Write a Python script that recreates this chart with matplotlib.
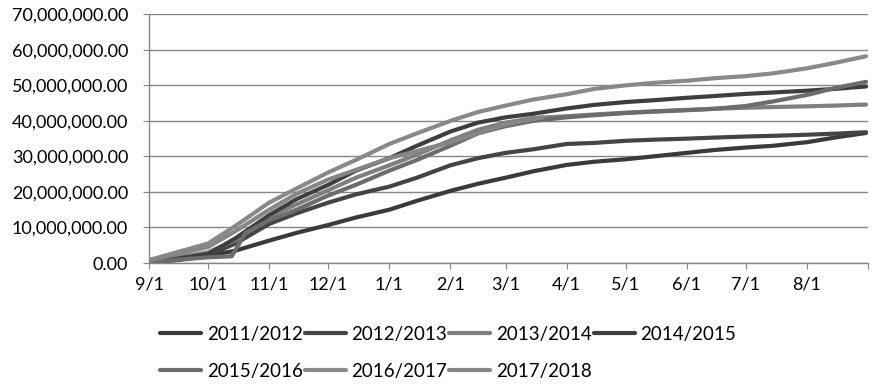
import numpy as np
import pandas as pd
import matplotlib
matplotlib.use('Agg')
import matplotlib.pyplot as plt
from matplotlib.ticker import FuncFormatter

plt.rcParams['font.family'] = ['Lato', 'DejaVu Sans']

# Dates of the readings (one season, Sep 1 to Aug 31)
dates = pd.to_datetime([
    '2017-09-01', '2017-09-15', '2017-10-01', '2017-10-15', '2017-11-01', '2017-11-15',
    '2017-12-01', '2017-12-15', '2018-01-01', '2018-01-15', '2018-02-01', '2018-02-15',
    '2018-03-01', '2018-03-15', '2018-04-01', '2018-04-15', '2018-05-01', '2018-05-15',
    '2018-06-01', '2018-06-15', '2018-07-01', '2018-07-15', '2018-08-01', '2018-08-15',
    '2018-08-31'])

# The 2015/2016 season has an extra flat stretch in October
dates_1516 = pd.to_datetime([
    '2017-09-01', '2017-09-15', '2017-10-01', '2017-10-13', '2017-10-20', '2017-11-01',
    '2017-11-15', '2017-12-01', '2017-12-15', '2018-01-01', '2018-01-15', '2018-02-01',
    '2018-02-15', '2018-03-01', '2018-03-15', '2018-04-01', '2018-04-15', '2018-05-01',
    '2018-05-15', '2018-06-01', '2018-06-15', '2018-07-01', '2018-07-15', '2018-08-01',
    '2018-08-15', '2018-08-31'])

# 2017/2018 season is not finished yet
dates_1718 = pd.to_datetime([
    '2017-09-01', '2017-09-15', '2017-10-01', '2017-10-15', '2017-11-01', '2017-11-15',
    '2017-12-01', '2017-12-15', '2018-01-01', '2018-01-15', '2018-02-01', '2018-02-15',
    '2018-03-01', '2018-03-15', '2018-03-20'])

# Cumulative values in millions
s1112 = [0.2, 0.8, 2.0, 3.5, 6.3, 8.5, 10.7, 12.8, 15.0, 17.5, 20.3, 22.3, 24.0, 25.8,
         27.6, 28.5, 29.2, 30.0, 31.0, 31.8, 32.5, 33.0, 34.0, 35.3, 36.6]
s1213 = [0.2, 1.0, 2.2, 5.5, 11.0, 14.0, 17.0, 19.3, 21.5, 24.0, 27.5, 29.5, 31.0, 32.0,
         33.5, 33.8, 34.4, 34.7, 35.0, 35.3, 35.6, 35.8, 36.1, 36.4, 36.8]
s1314 = [0.3, 1.5, 3.0, 6.5, 13.0, 16.5, 20.5, 24.0, 27.5, 30.5, 34.5, 37.5, 39.5, 40.8,
         41.3, 41.8, 42.3, 42.7, 43.1, 43.4, 43.7, 43.9, 44.1, 44.3, 44.6]
s1415 = [0.3, 1.2, 2.5, 7.0, 13.5, 18.0, 22.0, 26.0, 29.5, 33.0, 37.0, 39.5, 41.0, 42.0,
         43.5, 44.5, 45.3, 45.8, 46.5, 47.0, 47.6, 48.0, 48.5, 49.0, 49.7]
s1516 = [0.2, 0.9, 1.6, 1.9, 8.5, 12.0, 15.0, 19.0, 22.0, 26.0, 29.0, 33.0, 36.5, 38.5,
         40.0, 41.0, 41.6, 42.2, 42.6, 43.0, 43.4, 44.2, 45.5, 47.3, 49.2, 51.0]
s1617 = [0.8, 3.0, 5.5, 10.5, 17.0, 21.0, 25.5, 29.0, 33.5, 36.5, 40.0, 42.5, 44.3, 46.0,
         47.5, 49.0, 50.0, 50.7, 51.3, 52.0, 52.6, 53.4, 54.8, 56.3, 58.2]
s1718 = [0.8, 2.5, 4.5, 9.0, 15.0, 19.5, 23.5, 26.2, 29.5, 31.5, 34.0, 36.5, 39.0, 40.5, 41.0]

labels = ['2011/2012', '2012/2013', '2013/2014', '2014/2015', '2015/2016', '2016/2017', '2017/2018']
colors = ['#3a3a3a', '#444444', '#7f7f7f', '#3e3e3e', '#6c6c6c', '#898989', '#868686']

series = [(dates, s1112), (dates, s1213), (dates, s1314), (dates, s1415),
          (dates_1516, s1516), (dates, s1617), (dates_1718, s1718)]

fig = plt.figure(figsize=(8.75, 3.86), dpi=100)
ax = fig.add_axes([149 / 875, 1 - 263 / 386, 719 / 875, 248.7 / 386])

handles = []
for (d, v), lab, c in zip(series, labels, colors):
    h, = ax.plot(d, np.array(v) * 1e6, color=c, linewidth=3.0, label=lab,
                 solid_capstyle='round', solid_joinstyle='round')
    handles.append(h)

ax.set_ylim(0, 70e6)
ax.set_yticks(np.arange(0, 70e6 + 1, 10e6))
ax.yaxis.set_major_formatter(FuncFormatter(lambda y, p: '{:,.2f}'.format(y)))
ax.grid(axis='y', color='#868686', linewidth=1.0)
ax.set_axisbelow(True)

# Month ticks from 9/1 to the next 9/1
month_ticks = pd.date_range('2017-09-01', '2018-09-01', freq='MS')
ax.set_xlim(month_ticks[0], month_ticks[-1])
ax.set_xticks(month_ticks)
ax.set_xticklabels(['{}/1'.format(m.month) for m in month_ticks[:-1]] + [''])

for s in ['top', 'right']:
    ax.spines[s].set_visible(False)
for s in ['left', 'bottom']:
    ax.spines[s].set_color('#868686')
    ax.spines[s].set_linewidth(1.0)

ax.tick_params(axis='y', length=4, color='#868686', pad=11, labelsize=13)
ax.tick_params(axis='x', length=4, color='#868686', pad=6, labelsize=13)

# Legend filled row by row: 4 items on top, 3 below
order = [0, 4, 1, 5, 2, 6, 3]
leg = fig.legend([handles[i] for i in order], [labels[i] for i in order],
                 loc='upper left', bbox_to_anchor=(160 / 875, 1 - 326 / 386),
                 ncol=4, frameon=False, fontsize=13.5, handlelength=2.2,
                 handletextpad=0.3, columnspacing=0.1, labelspacing=1.05,
                 borderpad=0, borderaxespad=0)

fig.savefig('out.png', dpi=100)
